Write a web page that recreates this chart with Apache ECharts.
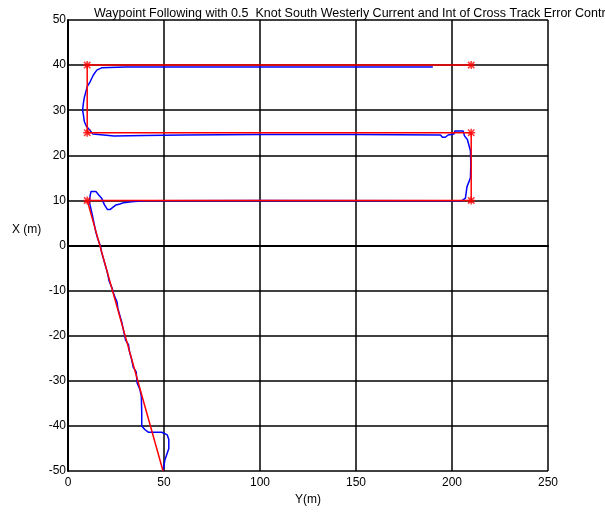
<!DOCTYPE html>
<html><head><meta charset="utf-8">
<script src="https://cdn.jsdelivr.net/npm/echarts@6/dist/echarts.min.js"></script>
<style>html,body{margin:0;padding:0;background:#fff}#c{width:605px;height:512px}</style>
</head><body><div id="c"></div>
<script>
const titleText = 'Waypoint Following with 0.5  Knot South Westerly Current and Int of Cross Track Error Control';
const xName = 'Y(m)';
const yName = 'X (m)';
const xTicks = [0, 50, 100, 150, 200, 250];
const yTicks = [-50, -40, -30, -20, -10, 0, 10, 20, 30, 40, 50];
// waypoints [Y, X]
const waypoints = [[49.5,-50],[10,10],[210,10],[210,25],[10,25],[10,40],[210,40]];
const markerPts = [[10,10],[210,10],[210,25],[10,25],[10,40],[210,40]];
// actual track [Y, X]
const track = [[49.5,-50],[50.5,-47.5],[52.5,-45],[52.5,-43],[51.7,-42],[48.8,-41.4],[41.8,-41.4],[40,-40.8],[38.4,-40],[38.4,-37],[38.2,-33.5],
[37.5,-32],[36,-30.5],[35.5,-28],[34,-27],[33,-25],[32,-23.5],[31.5,-22],[30,-21],[29,-19],[28,-17],[27,-15.5],[26,-14],[25.5,-12.5],[24,-11],[23,-9.5],[21.5,-8],[20.5,-6],[19.5,-4.5],[18.5,-3],[17.5,-1.5],[16.8,0],[15.5,1.5],[14.5,3],[13.5,5],[12.8,6.5],[12,8],[11.2,9.5],
[11.5,11],[12,12],[13,12.3],[14.5,12],[16,11.2],[17.5,10.5],[19,9],[20.5,8],[22,8],[23.5,8.5],[25,9],[27,9.2],[29,9.5],[33,9.7],[40,9.9],[100,10],[205,9.9],[207,10.5],[207.8,13],[209.6,15],[209.8,18],[209.6,21],[208,23.5],[206.5,24.3],[205.8,25.4],[201.5,25.4],[201,24.7],[198,24.5],[196.5,24],[195,24],[194,24.5],[150,24.6],[100,24.6],[60,24.5],[40,24.4],[24,24.3],[23.5,24.6],[13,24.7],[11.5,25.5],[10.5,26],[9.5,26.5],[8.5,27.5],[8,29],[7.6,30],[8,31.5],[8.5,32.8],[10,35.2],[11.5,36.3],[13.2,37.8],[15,38.9],[17.5,39.4],[18.5,39.6],[30,39.6],[100,39.6],[190,39.6]];

const chart = echarts.init(document.getElementById('c'), null, {renderer:'canvas'});
const font = 'Liberation Sans, Arial, sans-serif';
chart.setOption({
  animation:false,
  backgroundColor:'#fff',
  title:{text:titleText, left:89, top:2, textStyle:{fontFamily:font, fontSize:12.5, fontWeight:'normal', color:'#000'}},
  graphic:[{type:'text', left:12, top:224, style:{text:yName, font:'12px Liberation Sans, Arial, sans-serif', fill:'#000'}}],
  grid:{left:68, right:57, top:20, bottom:41, containLabel:false},
  xAxis:{type:'value', min:0, max:250, interval:50, name:xName, nameLocation:'middle', nameGap:22,
    nameTextStyle:{fontFamily:font, fontSize:12, color:'#000'},
    axisLine:{show:true, lineStyle:{color:'#000', width:2}}, axisTick:{show:false},
    axisLabel:{fontFamily:font, fontSize:12, color:'#000', margin:6},
    splitLine:{show:true, lineStyle:{color:'#000', width:1.5}}},
  yAxis:{type:'value', min:-50, max:50, interval:10,
    axisLine:{show:true, lineStyle:{color:'#000', width:2}}, axisTick:{show:false},
    axisLabel:{fontFamily:font, fontSize:12, color:'#000', margin:2},
    splitLine:{show:true, lineStyle:{color:'#000', width:1.5}}},
  series:[
    {type:'line', data:track, showSymbol:false, symbol:'none', lineStyle:{color:'#0000ff', width:1.5}, z:3},
    {type:'line', data:waypoints, showSymbol:false, symbol:'none', lineStyle:{color:'#ff0000', width:1.5}, z:4},
    {type:'scatter', data:markerPts, symbol:'path://M0,-10L0,10M-8,-8L8,8M-8,8L8,-8M-10,0L10,0', symbolSize:8,
      itemStyle:{color:'none', borderColor:'#ff0000', borderWidth:1.5}, z:5}
  ]
});
</script></body></html>
